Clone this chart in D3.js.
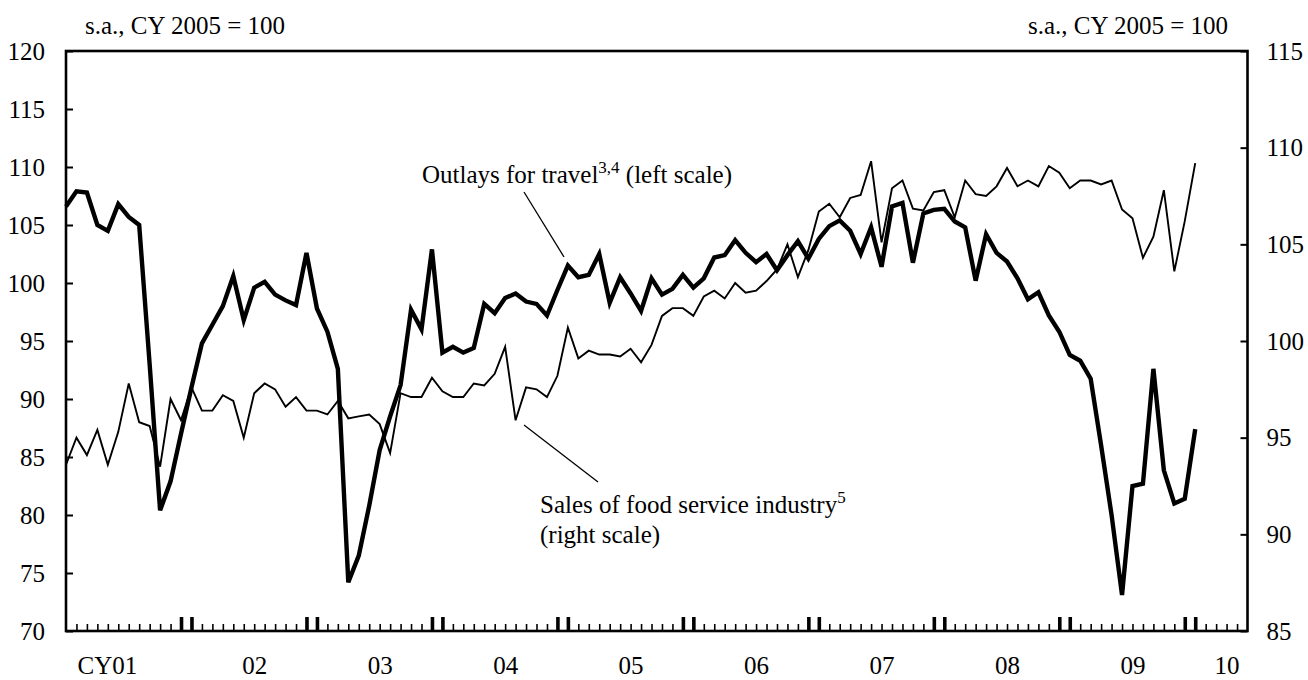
<!DOCTYPE html>
<html>
<head>
<meta charset="utf-8">
<script src="https://cdn.jsdelivr.net/npm/d3@7/dist/d3.min.js"></script>
<style>
html,body{margin:0;padding:0;background:#fff;}
svg{display:block;}
text{font-family:"Liberation Serif","Times New Roman",Times,serif;fill:#000;}
</style>
</head>
<body>
<svg id="chart" width="1308" height="680"></svg>
<script>
// Monthly data, Jan 2001 (index 0) to Jan 2010 (index 108)
const travel = [
106.6,107.9,107.8,105.0,104.5,106.8,105.7,105.0,93.0,80.4,82.9,87.0,
91.0,94.8,96.4,98.0,100.6,96.8,99.6,100.1,99.0,98.5,98.1,102.6,
97.8,95.8,92.6,74.2,76.5,80.8,85.6,88.5,91.2,97.7,96.0,102.9,
94.0,94.5,94.0,94.4,98.2,97.4,98.7,99.1,98.4,98.2,97.2,99.4,
101.5,100.5,100.7,102.5,98.3,100.5,99.1,97.6,100.4,99.0,99.5,100.7,
99.6,100.4,102.2,102.4,103.7,102.6,101.8,102.5,101.1,102.4,103.6,102.1,
103.8,104.9,105.4,104.5,102.5,104.8,101.4,106.6,106.9,101.75,106.0,106.3,
106.4,105.3,104.8,100.2,104.2,102.6,101.85,100.4,98.6,99.2,97.2,95.8,
93.8,93.3,91.75,86.0,80.0,73.1,82.5,82.7,92.6,83.85,81.0,81.4,
87.4
];
const food = [
93.6,95.0,94.1,95.4,93.6,95.3,97.8,95.8,95.6,93.5,97.0,95.9,
97.6,96.4,96.4,97.2,96.9,95.0,97.3,97.8,97.5,96.6,97.1,96.4,
96.4,96.2,96.9,96.0,96.1,96.2,95.7,94.2,97.3,97.1,97.1,98.1,
97.4,97.1,97.1,97.8,97.7,98.3,99.7,95.9,97.6,97.5,97.1,98.2,
100.7,99.1,99.5,99.3,99.3,99.2,99.6,98.9,99.8,101.3,101.7,101.7,
101.3,102.3,102.6,102.2,103.0,102.5,102.6,103.1,103.7,105.0,103.3,104.7,
106.7,107.1,106.4,107.4,107.55,109.3,105.1,107.9,108.3,106.85,106.75,107.7,
107.8,106.4,108.3,107.6,107.5,108.0,108.95,108.0,108.3,108.0,109.05,108.7,
107.9,108.3,108.3,108.1,108.3,106.8,106.35,104.3,105.4,107.8,103.6,106.2,
109.2
];
const yearLabels = ["CY01","02","03","04","05","06","07","08","09","10"];
const leftTicks = [70,75,80,85,90,95,100,105,110,115,120];
const rightTicks = [85,90,95,100,105,110,115];
const unitLabel = "s.a., CY 2005 = 100";
const travelLabel = ["Outlays for travel", "3,4", " (left scale)"];
const foodLabel = ["Sales of food service industry", "5", "(right scale)"];
const nMonthsAxis = 113;

const svg = d3.select("#chart");
const L = 66, R = 1247.5, T = 51, B = 631;
const x = d3.scaleLinear().domain([0, nMonthsAxis]).range([L, R]);
const yL = d3.scaleLinear().domain([70, 120]).range([B, T]);
const yR = d3.scaleLinear().domain([85, 115]).range([B, T]);
const FS = 25;

// month ticks
const monthIdx = d3.range(1, nMonthsAxis);
const isBig = i => (i % 12 === 11) || (i % 12 === 0);
const smallAxis = d3.axisBottom(x).tickValues(monthIdx.filter(i => !isBig(i))).tickSize(-7).tickFormat("");
const gS = svg.append("g").attr("transform", `translate(0,${B})`).call(smallAxis);
gS.select(".domain").remove();
gS.selectAll("line").attr("stroke", "#000").attr("stroke-width", 1.6);
const bigAxis = d3.axisBottom(x).tickValues(monthIdx.filter(isBig)).tickSize(-14).tickFormat("");
const gB = svg.append("g").attr("transform", `translate(0,${B})`).call(bigAxis);
gB.select(".domain").remove();
gB.selectAll("line").attr("stroke", "#000").attr("stroke-width", 3.6);

// year labels
const yearPos = yearLabels.map((d, k) => k === yearLabels.length - 1 ? 111 : k * 12 + 6);
const yearAxis = d3.axisBottom(x).tickValues(yearPos).tickSize(0).tickPadding(0)
  .tickFormat((d, k) => yearLabels[k]);
const gY = svg.append("g").attr("transform", `translate(0,${B})`).call(yearAxis);
gY.select(".domain").remove();
gY.selectAll("text").attr("font-size", FS).attr("font-family", null)
  .attr("dy", null).attr("y", 43)
  .attr("text-anchor", (d, k) => k === 0 ? "end" : "middle")
  .attr("dx", (d, k) => k === 0 ? 8 : 0);

// left axis
const leftAxis = d3.axisLeft(yL).tickValues(leftTicks).tickSize(-7).tickPadding(21).tickFormat(d3.format("d"));
const gL = svg.append("g").attr("transform", `translate(${L},0)`).call(leftAxis);
gL.select(".domain").remove();
gL.selectAll("line").attr("stroke", "#000").attr("stroke-width", 2);
gL.selectAll("text").attr("font-size", FS).attr("font-family", null);

// right axis
const rightAxis = d3.axisRight(yR).tickValues(rightTicks).tickSize(-7).tickPadding(19).tickFormat(d3.format("d"));
const gR = svg.append("g").attr("transform", `translate(${R},0)`).call(rightAxis);
gR.select(".domain").remove();
gR.selectAll("line").attr("stroke", "#000").attr("stroke-width", 2);
gR.selectAll("text").attr("font-size", FS).attr("font-family", null);

// frame
svg.append("rect").attr("x", L).attr("y", T).attr("width", R - L).attr("height", B - T)
  .attr("fill", "none").attr("stroke", "#000").attr("stroke-width", 2.6);

// lines
const lineL = d3.line().x((d, i) => x(i)).y(d => yL(d));
const lineR = d3.line().x((d, i) => x(i)).y(d => yR(d));
svg.append("path").datum(food).attr("d", lineR).attr("fill", "none")
  .attr("stroke", "#000").attr("stroke-width", 1.9).attr("stroke-linejoin", "miter");
svg.append("path").datum(travel).attr("d", lineL).attr("fill", "none")
  .attr("stroke", "#000").attr("stroke-width", 4.4).attr("stroke-linejoin", "miter");

// unit labels
svg.append("text").attr("x", 85).attr("y", 34).attr("font-size", FS).text(unitLabel);
svg.append("text").attr("x", 1228).attr("y", 34).attr("font-size", FS).attr("text-anchor", "end").text(unitLabel);

// annotations
const t1 = svg.append("text").attr("x", 422).attr("y", 183).attr("font-size", FS);
t1.append("tspan").text(travelLabel[0]);
t1.append("tspan").attr("font-size", 17).attr("dy", -10).text(travelLabel[1]);
t1.append("tspan").attr("dy", 10).text(travelLabel[2]);
svg.append("line").attr("x1", 524).attr("y1", 192).attr("x2", 564).attr("y2", 257)
  .attr("stroke", "#000").attr("stroke-width", 1.3);

const t2 = svg.append("text").attr("x", 540).attr("y", 513).attr("font-size", FS);
t2.append("tspan").text(foodLabel[0]);
t2.append("tspan").attr("font-size", 17).attr("dy", -10).text(foodLabel[1]);
svg.append("text").attr("x", 540).attr("y", 543).attr("font-size", FS).text(foodLabel[2]);
svg.append("line").attr("x1", 524).attr("y1", 425).attr("x2", 598).attr("y2", 482)
  .attr("stroke", "#000").attr("stroke-width", 1.3);
</script>
</body>
</html>
